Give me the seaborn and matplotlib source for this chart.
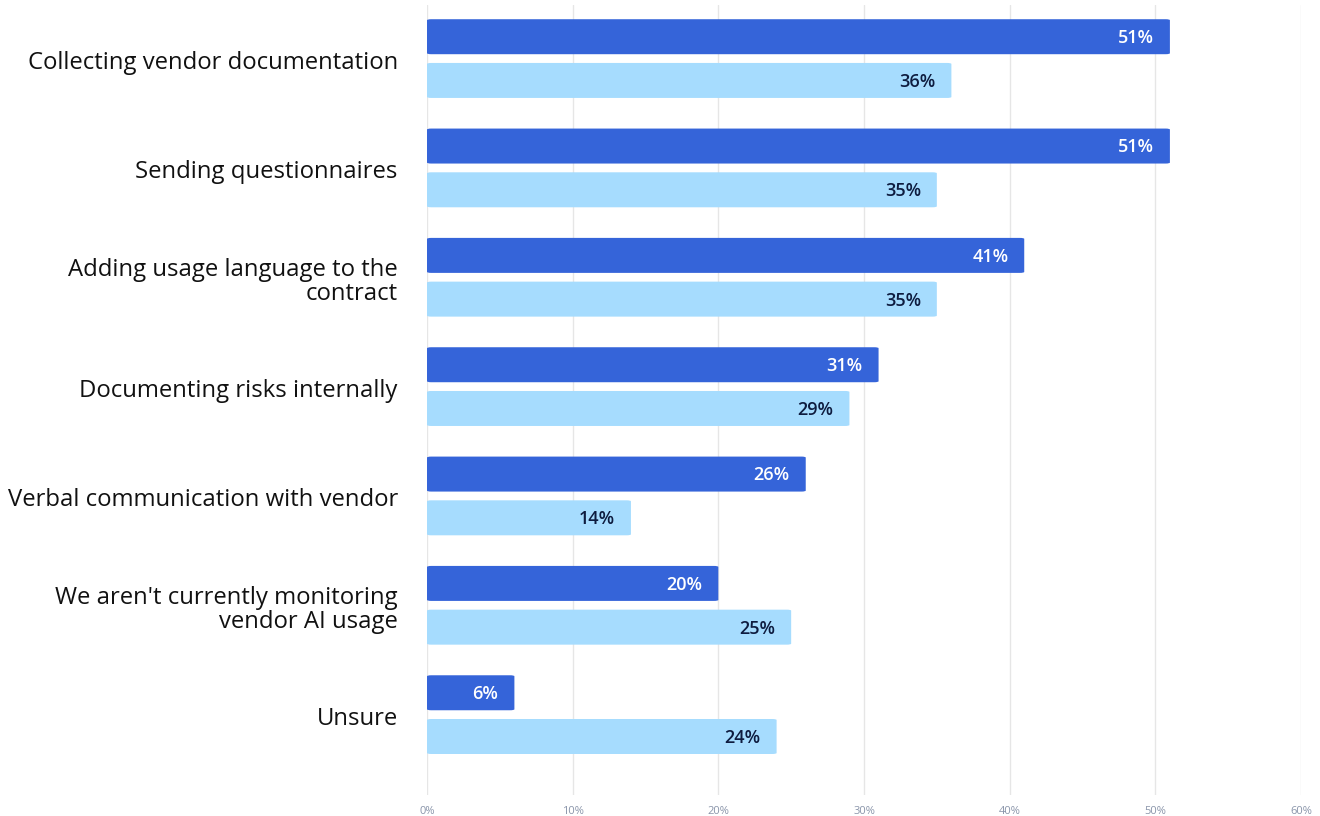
import matplotlib
matplotlib.use("Agg")
import matplotlib.pyplot as plt
from matplotlib.patches import FancyBboxPatch
from matplotlib.transforms import ScaledTranslation
import seaborn as sns
import pandas as pd

categories = [
    "Collecting vendor documentation",
    "Sending questionnaires",
    "Adding usage language to the\ncontract",
    "Documenting risks internally",
    "Verbal communication with vendor",
    "We aren't currently monitoring\nvendor AI usage",
    "Unsure",
]
series_names = ["Series A", "Series B"]
values_a = [51, 51, 41, 31, 26, 20, 6]
values_b = [36, 35, 35, 29, 14, 25, 24]
x_ticks = [0, 10, 20, 30, 40, 50, 60]
x_tick_labels = ["0%", "10%", "20%", "30%", "40%", "50%", "60%"]

bar_colors = ["#3564d9", "#a6dcfe"]
label_colors = ["#ffffff", "#0e1c3f"]

df = pd.DataFrame({
    "category": categories * 2,
    "series": [series_names[0]] * len(categories) + [series_names[1]] * len(categories),
    "value": values_a + values_b,
})

sns.set_theme(style="white")
plt.rcParams["font.family"] = ["Open Sans", "DejaVu Sans"]

fig = plt.figure(figsize=(13.2, 8.16), dpi=100)
ax = fig.add_axes([427 / 1320, 21 / 816, 874 / 1320, 790 / 816])

sns.barplot(
    data=df, y="category", x="value", hue="series", order=categories,
    hue_order=series_names, palette=bar_colors, orient="h",
    width=0.8, gap=0.2, legend=False, ax=ax, saturation=1,
)

# Swap plain rectangles for rounded ones
for container, col, tcol in zip(ax.containers, bar_colors, label_colors):
    for bar, val in zip(container, container.datavalues):
        x0, y0 = bar.get_x(), bar.get_y()
        w, h = bar.get_width(), bar.get_height()
        bar.set_visible(False)
        rounded = FancyBboxPatch(
            (x0, y0), w, h,
            boxstyle="round,pad=0,rounding_size=0.3",
            mutation_aspect=0.03,
            facecolor=col, edgecolor="none", zorder=3,
        )
        ax.add_patch(rounded)
        ax.annotate(
            f"{val:.0f}%", xy=(x0 + w, y0 + h / 2), xytext=(-11.5, -1),
            textcoords="offset points", ha="right", va="center",
            fontsize=13, fontweight="semibold", color=tcol, zorder=4,
        )

ax.set_xlim(0, 60)
ax.set_ylim(6.735, -0.49)
ax.set_xticks(x_ticks)
ax.set_xticklabels(x_tick_labels, fontsize=8, color="#8a95aa")
ax.tick_params(axis="x", length=0, pad=8)
ax.tick_params(axis="y", length=0, pad=21)
shift = ScaledTranslation(0, -1.5 / 100, fig.dpi_scale_trans)
for lbl in ax.get_yticklabels():
    lbl.set_fontsize(17.2)
    lbl.set_color("#111111")
    lbl.set_horizontalalignment("right")
    lbl.set_multialignment("right")
    lbl.set_linespacing(1.0)
    lbl.set_transform(lbl.get_transform() + shift)
ax.set_xlabel("")
ax.set_ylabel("")
ax.grid(axis="x", color="#e6e6e6", linewidth=1, zorder=0)
ax.set_axisbelow(True)
for s in ax.spines.values():
    s.set_visible(False)

fig.savefig("out.png", dpi=100)
